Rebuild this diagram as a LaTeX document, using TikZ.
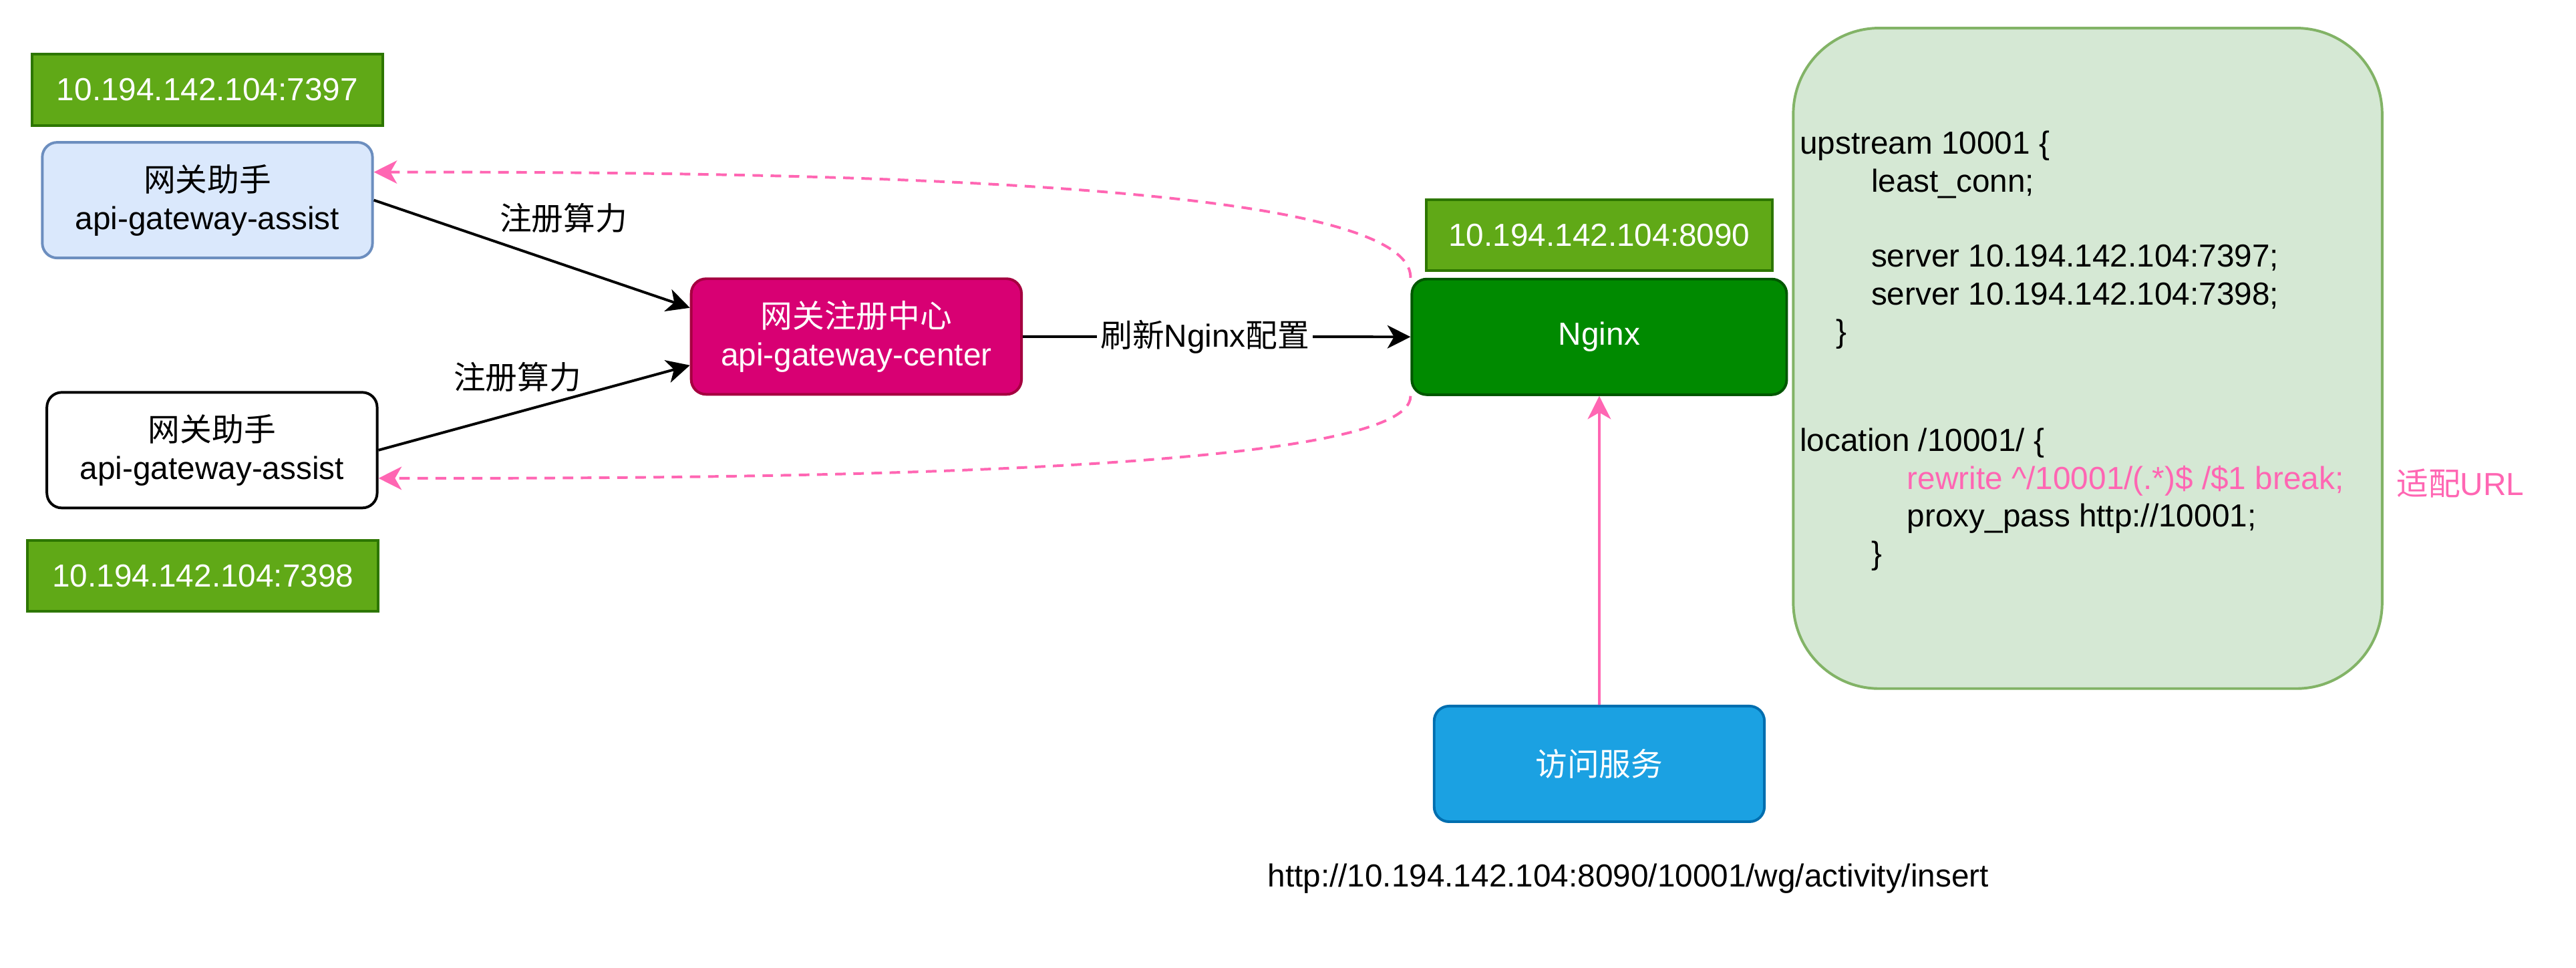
\documentclass[tikz,border=0pt]{standalone}
\usepackage{fontspec}
\setmainfont{Liberation Sans}
\newfontfamily\cjk{Noto Sans CJK SC}
\definecolor{IpColor}{HTML}{60A917}
\definecolor{IpBorder}{HTML}{2D7600}
\definecolor{AssistColor}{HTML}{DAE8FC}
\definecolor{AssistBorder}{HTML}{6C8EBF}
\definecolor{CenterColor}{HTML}{D80073}
\definecolor{CenterBorder}{HTML}{A50040}
\definecolor{NginxColor}{HTML}{008A00}
\definecolor{NginxBorder}{HTML}{005700}
\definecolor{ConfColor}{HTML}{D5E8D4}
\definecolor{ConfBorder}{HTML}{82B366}
\definecolor{VisitColor}{HTML}{1BA1E2}
\definecolor{VisitBorder}{HTML}{006EAF}
\definecolor{LinkColor}{HTML}{FF66B3}
\usepackage{tikz}
\usetikzlibrary{positioning, arrows.meta}
\tikzstyle{arrow} = [line width=0.8pt, black, ->, >={Stealth[length=7pt, width=7pt, inset=2pt]}]
\tikzstyle{visitarrow} = [line width=0.8pt, LinkColor, ->, >={Stealth[length=7pt, width=7pt, inset=2pt]}]
\tikzstyle{backarrow} = [visitarrow, dash pattern=on 3.2pt off 2.3pt]
\tikzset{
  box/.style={rectangle, rounded corners=4.5pt, line width=0.8pt, align=center, minimum width=100pt, minimum height=35pt, inner sep=0pt},
  ipbox/.style={rectangle, fill=IpColor, draw=IpBorder, line width=0.8pt, text=white, minimum width=106.25pt, minimum height=21.5pt, inner sep=0pt},
  assist/.style={box, fill=AssistColor, draw=AssistBorder},
  helper/.style={box, fill=white, draw=black},
  registry/.style={box, fill=CenterColor, draw=CenterBorder, text=white},
  nginx/.style={box, fill=NginxColor, draw=NginxBorder, text=white, minimum width=113.5pt},
  visit/.style={box, fill=VisitColor, draw=VisitBorder, text=white},
  conf/.style={rectangle, rounded corners=26pt, fill=ConfColor, draw=ConfBorder, line width=0.8pt, minimum width=178.3pt, minimum height=200pt},
  conftext/.style={align=left, inner sep=0pt, font=\fontsize{9.65pt}{11.4pt}\selectfont},
  edgelabel/.style={inner sep=1pt}
}

\begin{document}
\begin{tikzpicture}[x=0.5pt, y=-0.5pt, font=\fontsize{9.65pt}{11.5pt}\selectfont]
  \fill[white] (0,0) rectangle (1560,586);
  \useasboundingbox (0,0) rectangle (1560,586);

  % Gateway assistants
  \node[assist] (assist1) at (125.6,121.2) {{\cjk 网关助手}\\api-gateway-assist};
  \node[helper] (assist2) at (128.4,272.6) {{\cjk 网关助手}\\api-gateway-assist};
  \node[ipbox, above=4.35pt of assist1] (ip1) {10.194.142.104:7397};
  \node[ipbox, below=9pt of assist2, xshift=-2.75pt] (ip2) {10.194.142.104:7398};

  % Registry center
  \node[registry] (center) at (518.6,203.8) {{\cjk 网关注册中心}\\api-gateway-center};

  % Nginx
  \node[nginx] (nginx) at (968.5,204) {Nginx};
  \node[ipbox, above=1.8pt of nginx, minimum width=104.8pt] (ip3) {10.194.142.104:8090};

  % Nginx configuration
  \node[conf] (conf) at (1264.3,217) {};
  \node[conftext, anchor=north west] (conftext) at (1089.6,79) {upstream 10001 \{\\
    \hspace*{21.6pt}least\_conn;\\[11.4pt]
    \hspace*{21.6pt}server 10.194.142.104:7397;\\
    \hspace*{21.6pt}server 10.194.142.104:7398;\\
    \hspace*{11pt}\}\\[21.6pt]
    location /10001/ \{\\
    \hspace*{32.5pt}\textcolor{LinkColor}{rewrite \textasciicircum/10001/(.*)\$ /\$1 break;}\\
    \hspace*{32.5pt}proxy\_pass http://10001;\\
    \hspace*{21.6pt}\}};
  \node[text=LinkColor] (adapt) at (1490,292.6) {{\cjk 适配}URL};

  % Visiting service
  \node[visit] (visit) at (968.5,462.6) {{\cjk 访问服务}};
  \node (url) at (986,532) {http://10.194.142.104:8090/10001/wg/activity/insert};

  % Registering
  \draw[arrow] (assist1.east) -- ([yshift=8.7pt]center.west);
  \draw[arrow] (assist2.east) -- ([yshift=-8.7pt]center.west);
  \node[edgelabel] (reg1) at (341.3,132) {\cjk 注册算力};
  \node[edgelabel] (reg2) at (313.4,228.4) {\cjk 注册算力};

  % Refreshing the configuration
  \draw[arrow] (center.east) -- node[edgelabel, pos=0.47, fill=white] (refresh) {{\cjk 刷新}Nginx{\cjk 配置}} (nginx.west);

  % Requests and forwarding
  \draw[visitarrow] (visit.north) -- (nginx.south);
  \draw[backarrow] (nginx.north west) .. controls (855,110) and (500,104) .. ([yshift=8.5pt]assist1.east);
  \draw[backarrow] (nginx.south west) .. controls (855,285) and (500,290) .. ([yshift=-8.5pt]assist2.east);
\end{tikzpicture}
\end{document}
